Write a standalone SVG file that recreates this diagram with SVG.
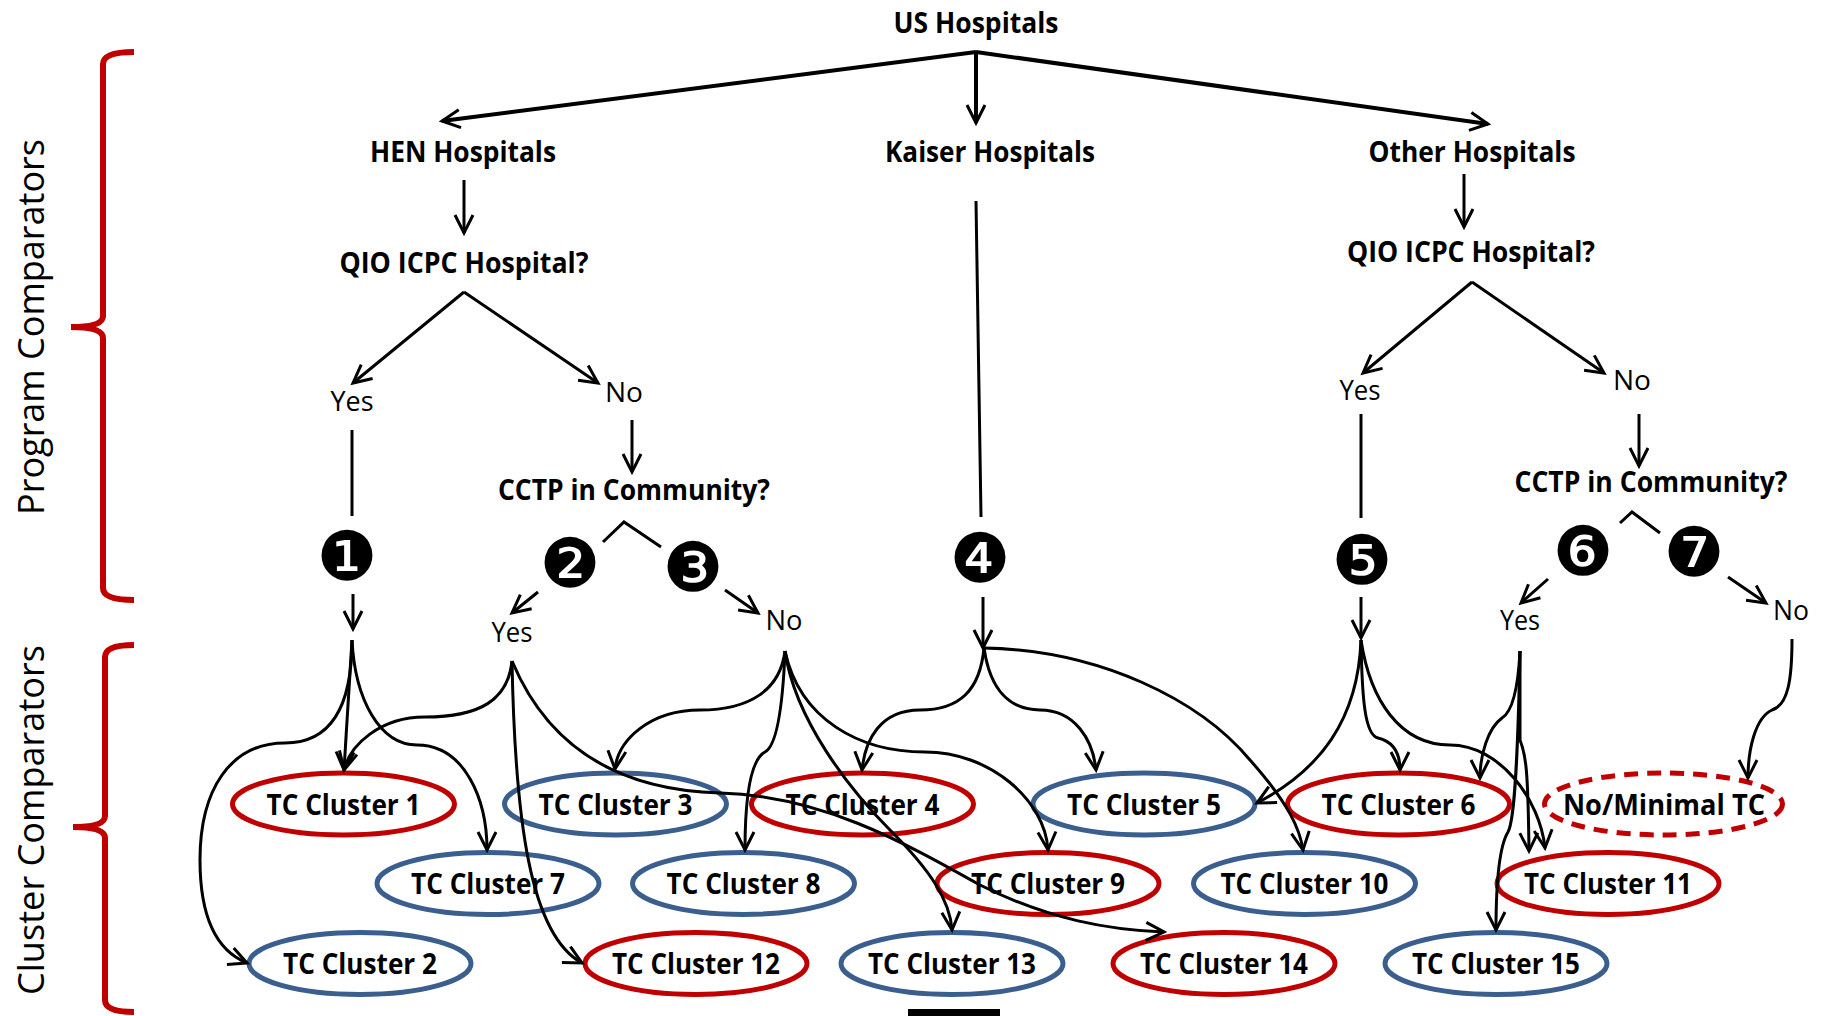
<svg xmlns="http://www.w3.org/2000/svg" width="1823" height="1016" viewBox="0 0 1823 1016">
<defs>
<style>
.b{font-family:"Open Sans","Noto Sans",sans-serif;font-weight:bold;font-size:28px;text-anchor:middle;fill:#000}
.r{font-family:"Open Sans","Noto Sans",sans-serif;font-weight:normal;font-size:28px;text-anchor:middle;fill:#000}
.side{font-family:"Open Sans","Noto Sans",sans-serif;font-size:36px;text-anchor:middle;fill:#000}
.num{font-family:"DejaVu Sans",sans-serif;font-size:68px;text-anchor:middle;fill:#000}
.red{fill:#fff;stroke:#C00000;stroke-width:5}
.blue{fill:#fff;stroke:#3A5F8E;stroke-width:5}
.dash{fill:#fff;stroke:#C00000;stroke-width:5;stroke-dasharray:14 9}
.c{fill:none;stroke:#000;stroke-width:3}
.ct{fill:none;stroke:#000;stroke-width:4}
.brace{fill:none;stroke:#C00000;stroke-width:6}
</style>
<marker id="ah" markerUnits="userSpaceOnUse" markerWidth="40" markerHeight="40" viewBox="-20 -20 40 40" refX="0" refY="0" orient="auto">
<path d="M-18,-9 L0,0 L-18,9" fill="none" stroke="#000" stroke-width="3"/>
</marker>
</defs>
<rect width="1823" height="1016" fill="#fff"/>

<g id="braces">
<path class="brace" d="M134,52 Q103,52 103,64 L103,316 Q103,327 71,327 Q103,327 103,338 L103,588 Q103,600 134,600"/>
<path class="brace" d="M134,645 Q105,645 105,657 L105,816 Q105,827 73,827 Q105,827 105,838 L105,1000 Q105,1012 134,1012"/>
<text class="side" transform="translate(44,327) rotate(-90)" textLength="376" lengthAdjust="spacingAndGlyphs">Program Comparators</text>
<text class="side" transform="translate(44,820) rotate(-90)" textLength="350" lengthAdjust="spacingAndGlyphs">Cluster Comparators</text>
</g>

<g id="us-hospitals"><text class="b" x="976" y="33" textLength="165" lengthAdjust="spacingAndGlyphs">US Hospitals</text></g>
<g id="hen-hospitals"><text class="b" x="463" y="162" textLength="186" lengthAdjust="spacingAndGlyphs">HEN Hospitals</text></g>
<g id="kaiser-hospitals"><text class="b" x="990" y="162" textLength="210" lengthAdjust="spacingAndGlyphs">Kaiser Hospitals</text></g>
<g id="other-hospitals"><text class="b" x="1472" y="162" textLength="207" lengthAdjust="spacingAndGlyphs">Other Hospitals</text></g>
<g id="qio-left"><text class="b" x="464" y="273" textLength="249" lengthAdjust="spacingAndGlyphs">QIO ICPC Hospital?</text></g>
<g id="qio-right"><text class="b" x="1471" y="262" textLength="248" lengthAdjust="spacingAndGlyphs">QIO ICPC Hospital?</text></g>
<g id="yes-left"><text class="r" x="352" y="411" textLength="43" lengthAdjust="spacingAndGlyphs">Yes</text></g>
<g id="no-left"><text class="r" x="624" y="402" textLength="38" lengthAdjust="spacingAndGlyphs">No</text></g>
<g id="yes-right"><text class="r" x="1360" y="400" textLength="41" lengthAdjust="spacingAndGlyphs">Yes</text></g>
<g id="no-right"><text class="r" x="1632" y="390" textLength="38" lengthAdjust="spacingAndGlyphs">No</text></g>
<g id="cctp-left"><text class="b" x="634" y="500" textLength="272" lengthAdjust="spacingAndGlyphs">CCTP in Community?</text></g>
<g id="cctp-right"><text class="b" x="1651" y="492" textLength="273" lengthAdjust="spacingAndGlyphs">CCTP in Community?</text></g>
<g id="yes-2"><text class="r" x="512" y="642" textLength="41" lengthAdjust="spacingAndGlyphs">Yes</text></g>
<g id="no-3"><text class="r" x="784" y="630" textLength="37" lengthAdjust="spacingAndGlyphs">No</text></g>
<g id="yes-6"><text class="r" x="1520" y="630" textLength="40" lengthAdjust="spacingAndGlyphs">Yes</text></g>
<g id="no-7"><text class="r" x="1791" y="620" textLength="36" lengthAdjust="spacingAndGlyphs">No</text></g>

<g id="n1"><text class="num" x="347" y="580">❶</text></g>
<g id="n2"><text class="num" x="570" y="587">❷</text></g>
<g id="n3"><text class="num" x="693" y="591">❸</text></g>
<g id="n4"><text class="num" x="980" y="582">❹</text></g>
<g id="n5"><text class="num" x="1362" y="584">❺</text></g>
<g id="n6"><text class="num" x="1583" y="575">❻</text></g>
<g id="n7"><text class="num" x="1694" y="576">❼</text></g>

<g id="tc1"><ellipse class="red" cx="343.5" cy="804" rx="111" ry="31"/><text class="b" x="343.5" y="815" textLength="154" lengthAdjust="spacingAndGlyphs">TC Cluster 1</text></g>
<g id="tc3"><ellipse class="blue" cx="615.5" cy="804" rx="111" ry="31"/><text class="b" x="615.5" y="815" textLength="154" lengthAdjust="spacingAndGlyphs">TC Cluster 3</text></g>
<g id="tc4"><ellipse class="red" cx="862.5" cy="804" rx="111" ry="31"/><text class="b" x="862.5" y="815" textLength="154" lengthAdjust="spacingAndGlyphs">TC Cluster 4</text></g>
<g id="tc5"><ellipse class="blue" cx="1144" cy="804" rx="111" ry="31"/><text class="b" x="1144" y="815" textLength="154" lengthAdjust="spacingAndGlyphs">TC Cluster 5</text></g>
<g id="tc6"><ellipse class="red" cx="1398.5" cy="804" rx="111" ry="31"/><text class="b" x="1398.5" y="815" textLength="154" lengthAdjust="spacingAndGlyphs">TC Cluster 6</text></g>
<g id="tc-none"><ellipse class="dash" cx="1663.5" cy="804" rx="119" ry="31"/><text class="b" x="1664" y="815" textLength="202" lengthAdjust="spacingAndGlyphs">No/Minimal TC</text></g>
<g id="tc7"><ellipse class="blue" cx="488" cy="883.5" rx="111" ry="31"/><text class="b" x="488" y="894" textLength="154" lengthAdjust="spacingAndGlyphs">TC Cluster 7</text></g>
<g id="tc8"><ellipse class="blue" cx="743.5" cy="883.5" rx="111" ry="31"/><text class="b" x="743.5" y="894" textLength="154" lengthAdjust="spacingAndGlyphs">TC Cluster 8</text></g>
<g id="tc9"><ellipse class="red" cx="1048" cy="883.5" rx="111" ry="31"/><text class="b" x="1048" y="894" textLength="154" lengthAdjust="spacingAndGlyphs">TC Cluster 9</text></g>
<g id="tc10"><ellipse class="blue" cx="1304.5" cy="883.5" rx="111" ry="31"/><text class="b" x="1304.5" y="894" textLength="168" lengthAdjust="spacingAndGlyphs">TC Cluster 10</text></g>
<g id="tc11"><ellipse class="red" cx="1608" cy="883.5" rx="111" ry="31"/><text class="b" x="1608" y="894" textLength="168" lengthAdjust="spacingAndGlyphs">TC Cluster 11</text></g>
<g id="tc2"><ellipse class="blue" cx="360" cy="963.5" rx="111" ry="31"/><text class="b" x="360" y="974" textLength="154" lengthAdjust="spacingAndGlyphs">TC Cluster 2</text></g>
<g id="tc12"><ellipse class="red" cx="696" cy="963.5" rx="111" ry="31"/><text class="b" x="696" y="974" textLength="168" lengthAdjust="spacingAndGlyphs">TC Cluster 12</text></g>
<g id="tc13"><ellipse class="blue" cx="952" cy="963.5" rx="111" ry="31"/><text class="b" x="952" y="974" textLength="168" lengthAdjust="spacingAndGlyphs">TC Cluster 13</text></g>
<g id="tc14"><ellipse class="red" cx="1224" cy="963.5" rx="111" ry="31"/><text class="b" x="1224" y="974" textLength="168" lengthAdjust="spacingAndGlyphs">TC Cluster 14</text></g>
<g id="tc15"><ellipse class="blue" cx="1496" cy="963.5" rx="111" ry="31"/><text class="b" x="1496" y="974" textLength="168" lengthAdjust="spacingAndGlyphs">TC Cluster 15</text></g>

<g id="connectors">
<path class="ct" d="M976,52 L442,121" marker-end="url(#ah)"/>
<path class="ct" d="M976,52 L976,123" marker-end="url(#ah)"/>
<path class="ct" d="M976,52 L1488,124" marker-end="url(#ah)"/>
<path class="c" d="M464,180 L464,233" marker-end="url(#ah)"/>
<path class="c" d="M464,292 L353,383" marker-end="url(#ah)"/>
<path class="c" d="M464,292 L598,383" marker-end="url(#ah)"/>
<path class="c" d="M1464,174 L1464,227" marker-end="url(#ah)"/>
<path class="c" d="M1472,282 L1363,373" marker-end="url(#ah)"/>
<path class="c" d="M1472,282 L1604,373" marker-end="url(#ah)"/>
<path class="c" d="M976,201 L981,517"/>
<path class="c" d="M352,430 L352,516"/>
<path class="c" d="M1361,414 L1361,518"/>
<path class="c" d="M632,420 L632,472" marker-end="url(#ah)"/>
<path class="c" d="M1639,414 L1639,466" marker-end="url(#ah)"/>
<path class="c" d="M603,542 L624,522 L661,547"/>
<path class="c" d="M1620,523 L1632,512 L1660,533"/>
<path class="c" d="M538,592 L512,613" marker-end="url(#ah)"/>
<path class="c" d="M725,590 L758,613" marker-end="url(#ah)"/>
<path class="c" d="M1548,579 L1521,603" marker-end="url(#ah)"/>
<path class="c" d="M1728,577 L1766,603" marker-end="url(#ah)"/>
<path class="c" d="M353,594 L353,629" marker-end="url(#ah)"/>
<path class="c" d="M983,597 L983,648" marker-end="url(#ah)"/>
<path class="c" d="M1361,597 L1361,638" marker-end="url(#ah)"/>

<path class="c" d="M352,640 C352,700 335,743 285,743 C230,743 200,790 200,860 C200,915 215,950 247,963" marker-end="url(#ah)"/>
<path class="c" d="M352,640 L344,770" marker-end="url(#ah)"/>
<path class="c" d="M352,640 C355,700 380,745 417,745 C465,745 487,800 487,850" marker-end="url(#ah)"/>

<path class="c" d="M512,661 C508,700 480,717 425,717 C380,717 350,745 344,770" marker-end="url(#ah)"/>
<path class="c" d="M512,661 C515,820 530,935 582,963" marker-end="url(#ah)"/>
<path class="c" d="M512,661 C545,740 610,790 720,793 C820,796 900,840 980,885 C1050,920 1110,930 1164,932" marker-end="url(#ah)"/>

<path class="c" d="M785,651 C780,690 750,710 700,710 C650,710 618,740 615,769" marker-end="url(#ah)"/>
<path class="c" d="M785,651 C783,700 778,745 765,752 C750,760 745,800 745,850" marker-end="url(#ah)"/>
<path class="c" d="M785,651 C795,720 850,790 890,830 C930,870 950,900 952,930" marker-end="url(#ah)"/>
<path class="c" d="M785,651 C800,720 860,752 925,752 C990,752 1045,800 1048,850" marker-end="url(#ah)"/>

<path class="c" d="M984,648 C980,690 960,710 920,710 C880,710 865,740 862,770" marker-end="url(#ah)"/>
<path class="c" d="M984,648 C990,690 1010,710 1040,710 C1075,710 1093,740 1096,770" marker-end="url(#ah)"/>
<path class="c" d="M984,648 C1100,650 1200,700 1250,760 C1290,805 1300,830 1303,850" marker-end="url(#ah)"/>

<path class="c" d="M1361,640 C1358,720 1320,770 1257,803" marker-end="url(#ah)"/>
<path class="c" d="M1361,640 C1362,700 1365,735 1378,738 C1395,742 1400,755 1400,770" marker-end="url(#ah)"/>
<path class="c" d="M1361,640 C1370,700 1400,745 1450,745 C1500,745 1540,800 1545,848" marker-end="url(#ah)"/>

<path class="c" d="M1520,651 C1518,690 1512,712 1502,718 C1488,728 1480,755 1480,778" marker-end="url(#ah)"/>
<path class="c" d="M1520,651 L1520,740 C1526,755 1528,770 1529,851" marker-end="url(#ah)"/>
<path class="c" d="M1520,651 C1518,750 1515,820 1508,832 C1500,845 1496,880 1496,930" marker-end="url(#ah)"/>

<path class="c" d="M1792,639 C1792,680 1788,705 1772,710 C1755,718 1748,750 1748,778" marker-end="url(#ah)"/>
</g>

<rect x="908" y="1009" width="92" height="7" fill="#000"/>
</svg>
